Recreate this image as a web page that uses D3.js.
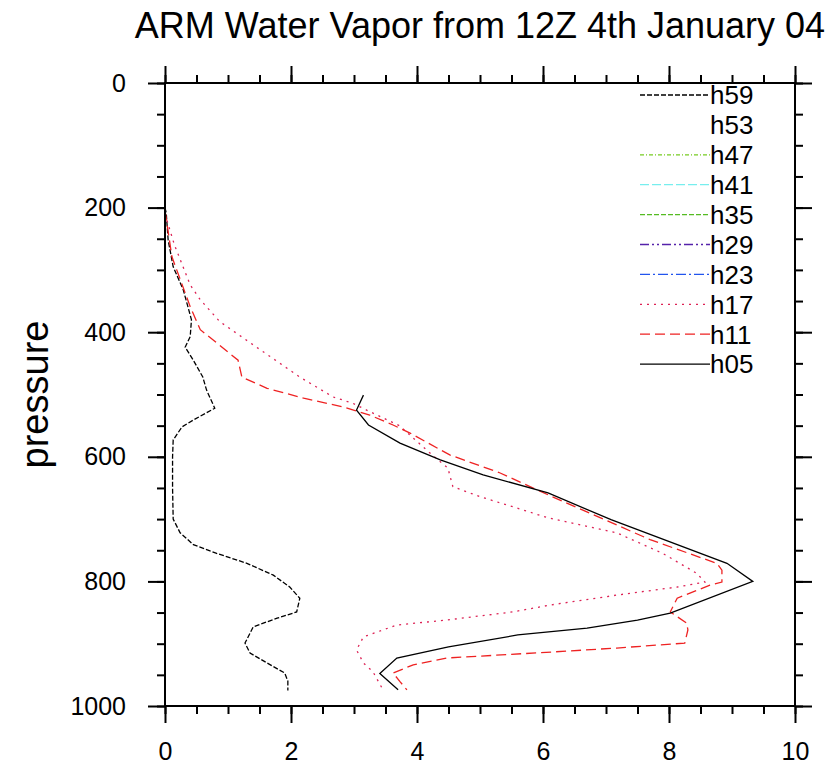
<!DOCTYPE html>
<html>
<head>
<meta charset="utf-8">
<script src="https://cdn.jsdelivr.net/npm/d3@7"></script>
<style>
  body { margin: 0; background: #fff; }
  text { font-family: "Liberation Sans", Arial, Helvetica, sans-serif; fill: #000; }
</style>
</head>
<body>
<div id="chart"></div>
<script>
// ARM water vapor profiles (x = water vapor, y = pressure)
var title = "ARM Water Vapor from 12Z 4th January 04";
var xTicks = [0, 2, 4, 6, 8, 10];
var yTicks = [0, 200, 400, 600, 800, 1000];

// series names, top of legend first
var seriesNames = ["h59", "h53", "h47", "h41", "h35", "h29", "h23", "h17", "h11", "h05"];

// h59
var h59_p = [200, 209, 252, 295, 332, 380, 407, 424, 445, 472, 493, 522, 541, 552, 573, 600, 650, 700, 722, 741, 755, 771, 790, 809, 827, 849, 859, 873, 899, 915, 931, 947, 960, 975];
var h59_v = [0.0, 0.02, 0.05, 0.13, 0.29, 0.42, 0.40, 0.32, 0.45, 0.60, 0.66, 0.79, 0.45, 0.27, 0.13, 0.12, 0.12, 0.13, 0.24, 0.45, 0.82, 1.30, 1.72, 1.98, 2.14, 2.09, 1.78, 1.40, 1.27, 1.35, 1.62, 1.90, 1.95, 1.95];
// h53 .. h23 have no visible profile
var h53_p = [], h53_v = [];
var h47_p = [], h47_v = [];
var h41_p = [], h41_v = [];
var h35_p = [], h35_v = [];
var h29_p = [], h29_v = [];
var h23_p = [], h23_v = [];
// h17
var h17_p = [210, 260, 324, 348, 383, 428, 472, 504, 514, 525, 550, 597, 618, 648, 664, 682, 698, 722, 755, 787, 801, 809, 822, 838, 849, 862, 870, 889, 910, 931, 945, 974];
var h17_v = [0.0, 0.15, 0.40, 0.56, 0.87, 1.51, 2.14, 2.67, 2.98, 3.20, 3.72, 4.24, 4.49, 4.57, 5.00, 5.58, 6.08, 7.17, 7.90, 8.44, 8.57, 8.13, 7.17, 6.11, 5.52, 4.47, 3.68, 3.15, 3.04, 3.15, 3.30, 3.46];
// h11
var h11_p = [205, 279, 359, 396, 417, 445, 472, 490, 506, 520, 533, 549, 562, 597, 626, 661, 733, 771, 782, 801, 806, 827, 849, 867, 878, 899, 907, 913, 923, 934, 947, 961, 974];
var h11_v = [0.0, 0.11, 0.40, 0.56, 0.82, 1.16, 1.22, 1.62, 2.20, 2.83, 3.25, 3.62, 3.89, 4.52, 5.32, 6.08, 7.70, 8.76, 8.84, 8.84, 8.65, 8.13, 8.02, 8.28, 8.30, 8.25, 7.17, 6.20, 4.47, 3.94, 3.62, 3.73, 3.84];
// h05
var h05_p = [501, 525, 549, 578, 605, 629, 658, 701, 771, 800, 851, 862, 875, 886, 905, 923, 948, 974];
var h05_v = [3.15, 3.04, 3.23, 3.73, 4.37, 5.05, 6.08, 7.08, 8.92, 9.33, 8.02, 7.50, 6.70, 5.60, 4.50, 3.68, 3.41, 3.70];

var seriesP = [h59_p, h53_p, h47_p, h41_p, h35_p, h29_p, h23_p, h17_p, h11_p, h05_p];
var seriesV = [h59_v, h53_v, h47_v, h41_v, h35_v, h29_v, h23_v, h17_v, h11_v, h05_v];

var colors = ["#000000", "#ffffff", "#77cc22", "#77eeee", "#55bb22", "#5522aa", "#2255ee", "#dd2255", "#ee2222", "#000000"];
var dashes = ["5,2", null, "4,2,1,2", "9,3", "5,2", "9,3,2,3,2,3", "10,3,2,3", "2,5", "10,5", null];

var svgWidth = 829, svgHeight = 767;
var plotL = 165, plotR = 795, plotT = 83, plotB = 706;

var svg = d3.select("#chart").append("svg")
    .attr("width", svgWidth)
    .attr("height", svgHeight);

var x = d3.scaleLinear().domain([0, 10]).range([plotL, plotR]);
var y = d3.scaleLinear().domain([0, 1000]).range([plotT, plotB]);

svg.append("text")
    .attr("x", (plotL + plotR) / 2)
    .attr("y", 38)
    .attr("font-size", "36px")
    .style("text-anchor", "middle")
    .text(title);

svg.append("text")
    .attr("transform", "translate(48," + ((plotT + plotB) / 2) + ") rotate(-90)")
    .attr("font-size", "38px")
    .style("text-anchor", "middle")
    .text("pressure");

// minor ticks
var xMinor = d3.range(0, 10.01, 0.5);
var yMinor = d3.range(0, 1001, 50);

function styleAxis(g) {
    g.selectAll("path").remove();
    g.selectAll("line").attr("stroke", "#000").attr("stroke-width", 2);
}

svg.append("g").attr("transform", "translate(0," + plotB + ")")
    .call(d3.axisBottom(x).tickValues(xMinor).tickSize(8).tickFormat(""))
    .call(styleAxis);
svg.append("g").attr("transform", "translate(0," + plotT + ")")
    .call(d3.axisTop(x).tickValues(xMinor).tickSize(8).tickFormat(""))
    .call(styleAxis);
svg.append("g").attr("transform", "translate(" + plotL + ",0)")
    .call(d3.axisLeft(y).tickValues(yMinor).tickSize(8).tickFormat(""))
    .call(styleAxis);
svg.append("g").attr("transform", "translate(" + plotR + ",0)")
    .call(d3.axisRight(y).tickValues(yMinor).tickSize(8).tickFormat(""))
    .call(styleAxis);

// major ticks with labels
var xAxis = svg.append("g").attr("transform", "translate(0," + plotB + ")")
    .call(d3.axisBottom(x).tickValues(xTicks).tickSize(17).tickPadding(19).tickFormat(d3.format("d")))
    .call(styleAxis);
xAxis.selectAll("text").attr("font-size", "25px").attr("font-family", "Liberation Sans, Arial, sans-serif");

var yAxis = svg.append("g").attr("transform", "translate(" + plotL + ",0)")
    .call(d3.axisLeft(y).tickValues(yTicks).tickSize(17).tickPadding(22).tickFormat(d3.format("d")))
    .call(styleAxis);
yAxis.selectAll("text").attr("font-size", "25px").attr("font-family", "Liberation Sans, Arial, sans-serif");

svg.append("g").attr("transform", "translate(0," + plotT + ")")
    .call(d3.axisTop(x).tickValues(xTicks).tickSize(17).tickFormat(""))
    .call(styleAxis);
svg.append("g").attr("transform", "translate(" + plotR + ",0)")
    .call(d3.axisRight(y).tickValues(yTicks).tickSize(17).tickFormat(""))
    .call(styleAxis);

// profiles
var line = d3.line()
    .x(function (d) { return x(d[1]); })
    .y(function (d) { return y(d[0]); });

seriesNames.forEach(function (name, i) {
    var pts = seriesP[i].map(function (p, j) { return [p, seriesV[i][j]]; });
    if (pts.length === 0) return;
    svg.append("path")
        .datum(pts)
        .attr("fill", "none")
        .attr("stroke", colors[i])
        .attr("stroke-width", 1.3)
        .attr("stroke-dasharray", dashes[i])
        .attr("d", line);
});

// frame
svg.append("rect")
    .attr("x", plotL).attr("y", plotT)
    .attr("width", plotR - plotL).attr("height", plotB - plotT)
    .attr("fill", "none").attr("stroke", "#000").attr("stroke-width", 2);

// legend
var legend = svg.append("g")
    .selectAll("g")
    .data(seriesNames)
    .enter().append("g")
    .attr("transform", function (d, i) { return "translate(0," + (95 + i * 29.9) + ")"; });

legend.append("line")
    .attr("x1", 640).attr("x2", 710)
    .attr("stroke", function (d, i) { return colors[i]; })
    .attr("stroke-width", 1.3)
    .attr("stroke-dasharray", function (d, i) { return dashes[i]; });

legend.append("text")
    .attr("x", 710)
    .attr("dy", "0.36em")
    .attr("font-size", "26px")
    .text(function (d) { return d; });
</script>
</body>
</html>
